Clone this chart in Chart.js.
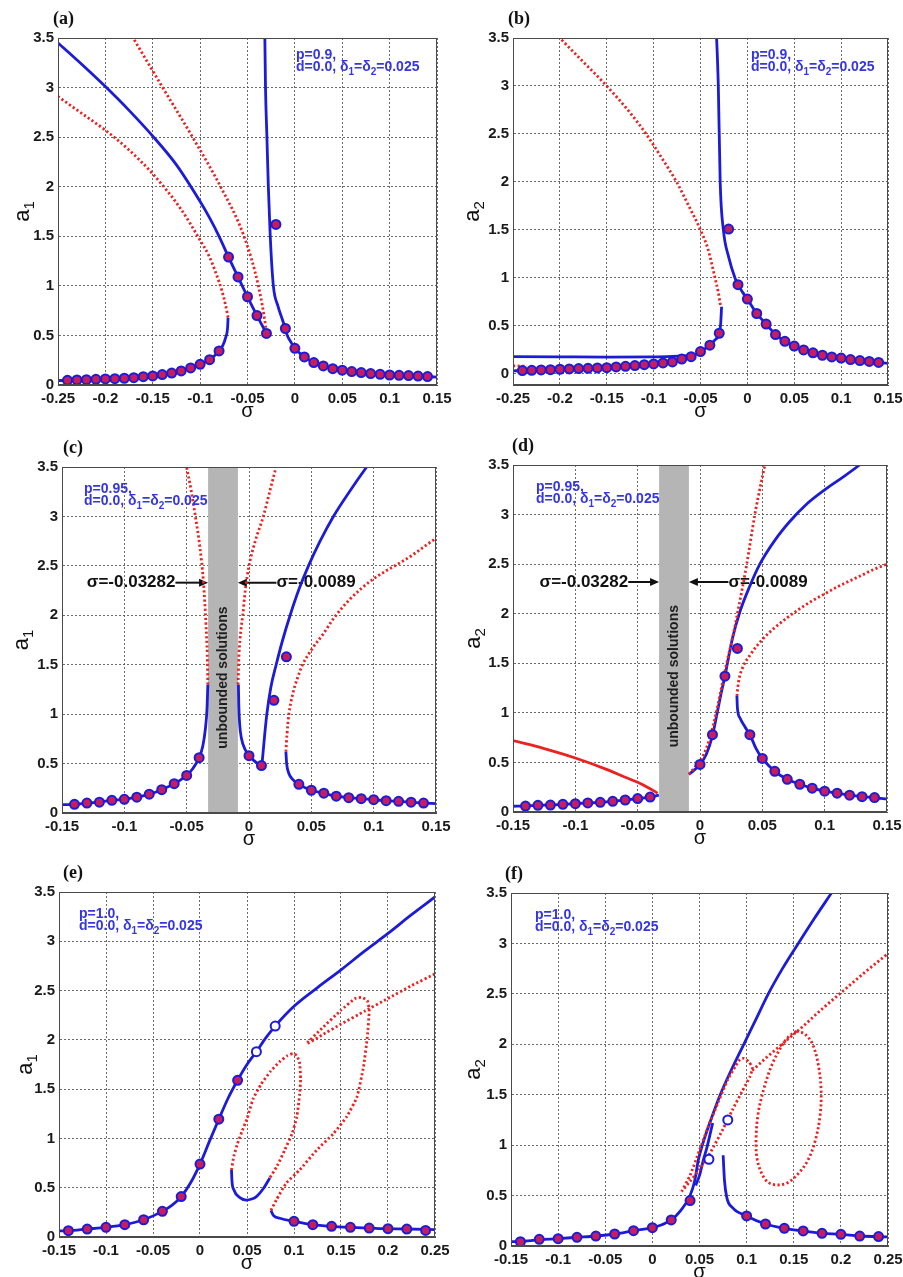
<!DOCTYPE html>
<html>
<head>
<meta charset="utf-8">
<script src="https://cdn.jsdelivr.net/npm/chart.js@4.4.1/dist/chart.umd.min.js"></script>
<style>
  body { margin: 0; background: #fff; width: 903px; height: 1277px; position: relative; overflow: hidden; }
  canvas { position: absolute; }
</style>
</head>
<body>
<canvas id="pa"></canvas>
<canvas id="pb"></canvas>
<canvas id="pc"></canvas>
<canvas id="pd"></canvas>
<canvas id="pe"></canvas>
<canvas id="pf"></canvas>
<script>
// ---- axis ticks ----
const sigmaTicksWide = [-0.25, -0.2, -0.15, -0.1, -0.05, 0, 0.05, 0.1, 0.15];
const sigmaTicksMid = [-0.15, -0.1, -0.05, 0, 0.05, 0.1, 0.15];
const sigmaTicksShift = [-0.15, -0.1, -0.05, 0, 0.05, 0.1, 0.15, 0.2, 0.25];
const ampTicks = [0, 0.5, 1, 1.5, 2, 2.5, 3, 3.5];

// ---- (a) p = 0.9, amplitude a1 ----
const aLowStable = [[-0.25,0.045],[-0.24,0.047],[-0.22,0.054],[-0.2,0.061],[-0.18,0.068],[-0.16,0.084],[-0.14,0.105],[-0.12,0.142],[-0.11,0.172],[-0.1,0.209],[-0.09,0.255],[-0.08,0.344],[-0.076,0.4],[-0.073,0.48],[-0.071,0.58],[-0.0705,0.68]];
const aLowUnstable = [[-0.0705,0.68],[-0.073,0.8],[-0.077,0.95],[-0.083,1.12],[-0.09,1.29],[-0.1,1.46],[-0.12,1.77],[-0.15,2.13],[-0.175,2.37],[-0.2,2.57],[-0.225,2.74],[-0.25,2.91]];
const aUpStable = [[-0.25,3.45],[-0.225,3.235],[-0.2,3.01],[-0.175,2.77],[-0.15,2.51],[-0.125,2.22],[-0.1,1.85],[-0.09,1.685],[-0.08,1.5],[-0.07,1.29],[-0.06,1.09],[-0.05,0.89],[-0.04,0.7],[-0.03,0.52]];
const aUpUnstable = [[-0.177,3.6],[-0.1707,3.5],[-0.1395,3.0],[-0.108,2.5],[-0.0784,2.0],[-0.0537,1.5],[-0.0385,1.0],[-0.031,0.6],[-0.03,0.52]];
const aRightStable = [[-0.0318,3.6],[-0.031,3.0],[-0.0295,2.5],[-0.028,2.0],[-0.026,1.5],[-0.0227,1.0],[-0.018,0.8],[-0.0125,0.64],[-0.008,0.5],[-0.004,0.43],[0,0.37],[0.01,0.283],[0.02,0.226],[0.03,0.192],[0.04,0.165],[0.05,0.149],[0.07,0.125],[0.09,0.108],[0.11,0.098],[0.13,0.09],[0.15,0.08]];
const aSim = [[-0.24,0.047],[-0.23,0.051],[-0.22,0.054],[-0.21,0.057],[-0.2,0.061],[-0.19,0.064],[-0.18,0.068],[-0.17,0.074],[-0.16,0.084],[-0.15,0.091],[-0.14,0.105],[-0.13,0.12],[-0.12,0.142],[-0.11,0.172],[-0.1,0.209],[-0.09,0.255],[-0.08,0.344],[-0.07,1.29],[-0.06,1.09],[-0.05,0.89],[-0.04,0.7],[-0.03,0.52],[-0.02,1.62],[-0.01,0.57],[0,0.37],[0.01,0.283],[0.02,0.226],[0.03,0.192],[0.04,0.165],[0.05,0.149],[0.06,0.135],[0.07,0.125],[0.08,0.115],[0.09,0.108],[0.1,0.101],[0.11,0.098],[0.12,0.095],[0.13,0.09],[0.14,0.085]];

// ---- (b) p = 0.9, amplitude a2 ----
const bFlatStable = [[-0.25,0.18],[-0.2,0.178],[-0.15,0.176],[-0.1,0.178],[-0.08,0.183],[-0.062,0.19]];
const bLowStable = [[-0.25,0.033],[-0.24,0.035],[-0.2,0.049],[-0.15,0.066],[-0.12,0.087],[-0.1,0.104],[-0.08,0.125],[-0.07,0.156],[-0.06,0.18],[-0.05,0.233],[-0.04,0.3],[-0.035,0.35],[-0.03,0.424],[-0.0285,0.52],[-0.0275,0.7]];
const bLowUnstable = [[-0.25,0.085],[-0.235,0.08]];
const bUpUnstable = [[-0.205,3.55],[-0.2,3.5],[-0.175,3.25],[-0.15,3.0],[-0.125,2.72],[-0.108,2.5],[-0.092,2.26],[-0.0755,2.0],[-0.0625,1.75],[-0.05,1.5],[-0.042,1.3],[-0.0345,1.0],[-0.031,0.85],[-0.0285,0.7]];
const bRightStable = [[-0.0332,3.6],[-0.031,3.0],[-0.029,2.0],[-0.0256,1.5],[-0.02,1.22],[-0.0132,1.0],[-0.01,0.93],[-0.005,0.85],[0,0.78],[0.01,0.63],[0.02,0.52],[0.03,0.41],[0.04,0.34],[0.05,0.29],[0.06,0.25],[0.07,0.22],[0.08,0.195],[0.1,0.165],[0.12,0.14],[0.14,0.12],[0.15,0.11]];
const bSim = [[-0.24,0.035],[-0.23,0.038],[-0.22,0.042],[-0.21,0.045],[-0.2,0.049],[-0.19,0.052],[-0.18,0.056],[-0.17,0.059],[-0.16,0.063],[-0.15,0.066],[-0.14,0.073],[-0.13,0.08],[-0.12,0.087],[-0.11,0.097],[-0.1,0.104],[-0.09,0.115],[-0.08,0.125],[-0.07,0.156],[-0.06,0.18],[-0.05,0.233],[-0.04,0.3],[-0.03,0.424],[-0.02,1.51],[-0.01,0.93],[0,0.78],[0.01,0.63],[0.02,0.52],[0.03,0.41],[0.04,0.34],[0.05,0.29],[0.06,0.25],[0.07,0.22],[0.08,0.195],[0.09,0.178],[0.1,0.165],[0.11,0.15],[0.12,0.14],[0.13,0.13],[0.14,0.12]];

// ---- (c) p = 0.95, amplitude a1 ----
const unboundedBand = [-0.03282, -0.0089];
const cLeftStable = [[-0.15,0.085],[-0.14,0.088],[-0.13,0.1],[-0.12,0.11],[-0.11,0.128],[-0.1,0.138],[-0.09,0.16],[-0.08,0.19],[-0.07,0.236],[-0.06,0.297],[-0.05,0.38],[-0.045,0.45],[-0.04,0.56],[-0.037,0.68],[-0.035,0.85],[-0.0337,1.05],[-0.033,1.3]];
const cLeftUnstable = [[-0.033,1.3],[-0.0335,1.6],[-0.0345,1.9],[-0.0365,2.33],[-0.0395,2.7],[-0.043,3.0],[-0.0465,3.27],[-0.051,3.56]];
const cMidStable = [[-0.0085,1.3],[-0.0082,1.1],[-0.0075,0.9],[-0.006,0.75],[-0.003,0.64],[0,0.58],[0.004,0.53],[0.008,0.49],[0.0103,0.48]];
const cRiseStable = [[0.0103,0.48],[0.0112,0.6],[0.0125,0.78],[0.0143,1.0],[0.0175,1.27],[0.0218,1.5],[0.027,1.75],[0.033,2.0],[0.04,2.26],[0.0477,2.5],[0.057,2.75],[0.0677,3.0],[0.08,3.24],[0.0944,3.5],[0.098,3.56]];
const cMidUnstable = [[-0.0088,1.3],[-0.008,1.6],[-0.0065,1.85],[-0.005,2.0],[-0.003,2.25],[0,2.5],[0.005,2.75],[0.0115,3.0],[0.017,3.27],[0.023,3.56]];
const cRightStable = [[0.0296,0.62],[0.0302,0.5],[0.032,0.4],[0.035,0.34],[0.04,0.29],[0.05,0.23],[0.06,0.2],[0.07,0.17],[0.08,0.155],[0.09,0.145],[0.1,0.135],[0.11,0.125],[0.12,0.118],[0.13,0.11],[0.14,0.1],[0.15,0.095]];
const cRightUnstable = [[0.0296,0.62],[0.0305,0.8],[0.032,1.0],[0.035,1.2],[0.039,1.37],[0.043,1.5],[0.05,1.65],[0.06,1.82],[0.068,1.97],[0.08,2.15],[0.09,2.27],[0.1,2.37],[0.11,2.45],[0.121,2.53],[0.13,2.6],[0.14,2.69],[0.15,2.78]];
const cSim = [[-0.14,0.088],[-0.13,0.1],[-0.12,0.11],[-0.11,0.128],[-0.1,0.138],[-0.09,0.16],[-0.08,0.19],[-0.07,0.236],[-0.06,0.297],[-0.05,0.38],[-0.04,0.56],[0,0.58],[0.01,0.48],[0.02,1.14],[0.03,1.58],[0.04,0.29],[0.05,0.23],[0.06,0.2],[0.07,0.17],[0.08,0.155],[0.09,0.145],[0.1,0.135],[0.11,0.125],[0.12,0.118],[0.13,0.11],[0.14,0.1]];

// ---- (d) p = 0.95, amplitude a2 ----
const dLeftStable = [[-0.15,0.058],[-0.14,0.06],[-0.13,0.067],[-0.12,0.07],[-0.11,0.077],[-0.1,0.084],[-0.09,0.091],[-0.08,0.098],[-0.07,0.108],[-0.06,0.121],[-0.05,0.135],[-0.04,0.151],[-0.033,0.17]];
const dLeftUnstable = [[-0.15,0.72],[-0.125,0.64],[-0.1,0.545],[-0.075,0.43],[-0.06,0.35],[-0.05,0.3],[-0.04,0.235],[-0.034,0.19]];
const dRiseStable = [[-0.0089,0.38],[-0.005,0.42],[0,0.48],[0.005,0.58],[0.01,0.77],[0.013,0.95],[0.017,1.2],[0.02,1.37],[0.022,1.5],[0.026,1.75],[0.032,2.02],[0.04,2.28],[0.048,2.5],[0.06,2.74],[0.072,2.93],[0.085,3.1],[0.1,3.25],[0.115,3.38],[0.128,3.5],[0.134,3.56]];
const dMidUnstable = [[-0.0089,0.38],[-0.003,0.47],[0.003,0.58],[0.008,0.75],[0.013,1.0],[0.018,1.3],[0.0214,1.5],[0.026,1.75],[0.03,2.0],[0.0375,2.5],[0.044,3.0],[0.053,3.56]];
const dRightStable = [[0.0296,1.17],[0.03,1.05],[0.032,0.95],[0.036,0.86],[0.04,0.78],[0.045,0.64],[0.05,0.54],[0.06,0.41],[0.07,0.33],[0.08,0.28],[0.09,0.24],[0.1,0.21],[0.11,0.19],[0.12,0.17],[0.13,0.155],[0.14,0.145],[0.15,0.13]];
const dRightUnstable = [[0.0296,1.17],[0.031,1.32],[0.034,1.45],[0.04,1.58],[0.05,1.74],[0.06,1.86],[0.07,1.96],[0.08,2.05],[0.09,2.13],[0.1,2.2],[0.11,2.27],[0.12,2.33],[0.13,2.39],[0.14,2.45],[0.15,2.5]];
const dSim = [[-0.14,0.06],[-0.13,0.067],[-0.12,0.07],[-0.11,0.077],[-0.1,0.084],[-0.09,0.091],[-0.08,0.098],[-0.07,0.108],[-0.06,0.121],[-0.05,0.135],[-0.04,0.151],[0,0.48],[0.01,0.78],[0.02,1.37],[0.03,1.65],[0.04,0.78],[0.05,0.54],[0.06,0.41],[0.07,0.33],[0.08,0.28],[0.09,0.24],[0.1,0.21],[0.11,0.19],[0.12,0.17],[0.13,0.155],[0.14,0.145]];

// ---- (e) p = 1.0, amplitude a1 ----
const eMainStable = [[-0.15,0.062],[-0.14,0.064],[-0.12,0.081],[-0.1,0.098],[-0.08,0.125],[-0.06,0.175],[-0.04,0.26],[-0.03,0.32],[-0.02,0.41],[-0.01,0.55],[0,0.74],[0.01,0.97],[0.02,1.195],[0.03,1.41],[0.04,1.59],[0.05,1.75],[0.06,1.88],[0.07,2.02],[0.08,2.14],[0.1,2.34],[0.125,2.53],[0.15,2.71],[0.175,2.9],[0.2,3.08],[0.225,3.27],[0.25,3.45]];
const eArcStable = [[0.0335,0.68],[0.034,0.57],[0.036,0.48],[0.0424,0.4],[0.0495,0.375],[0.055,0.385],[0.06,0.41],[0.068,0.5],[0.0743,0.6]];
const eInnerLoop = [[0.0335,0.68],[0.036,0.82],[0.04,0.95],[0.045,1.08],[0.05,1.2],[0.0565,1.4],[0.065,1.55],[0.075,1.68],[0.085,1.78],[0.093,1.84],[0.099,1.86],[0.103,1.84],[0.106,1.76],[0.107,1.6],[0.106,1.45],[0.103,1.22],[0.098,1.05],[0.09,0.88],[0.082,0.72],[0.0743,0.6]];
const eOuterUnstable = [[0.0755,0.27],[0.0814,0.38],[0.092,0.55],[0.106,0.68],[0.124,0.88],[0.142,1.05],[0.156,1.22],[0.167,1.42],[0.174,1.73],[0.178,2.03],[0.18,2.3],[0.178,2.4],[0.172,2.43],[0.165,2.42],[0.15,2.3],[0.13,2.12],[0.1134,1.96],[0.13,2.05],[0.15,2.16],[0.175,2.29],[0.2,2.42],[0.225,2.55],[0.25,2.67]];
const eRightStable = [[0.0755,0.27],[0.078,0.22],[0.085,0.19],[0.1,0.159],[0.12,0.125],[0.14,0.108],[0.16,0.098],[0.18,0.091],[0.2,0.084],[0.22,0.081],[0.25,0.075]];
const eSim = [[-0.14,0.064],[-0.12,0.081],[-0.1,0.098],[-0.08,0.125],[-0.06,0.175],[-0.04,0.26],[-0.02,0.41],[0,0.74],[0.02,1.195],[0.04,1.59],[0.1,0.159],[0.12,0.125],[0.14,0.108],[0.16,0.098],[0.18,0.091],[0.2,0.084],[0.22,0.081],[0.24,0.067]];
const eSimOpen = [[0.06,1.88],[0.08,2.14]];

// ---- (f) p = 1.0, amplitude a2 ----
const fMainStable = [[-0.15,0.043],[-0.14,0.045],[-0.12,0.062],[-0.1,0.073],[-0.08,0.086],[-0.06,0.099],[-0.04,0.119],[-0.02,0.152],[0,0.182],[0.01,0.21],[0.02,0.258],[0.03,0.35],[0.04,0.5],[0.045,0.65],[0.0487,0.85],[0.053,1.0],[0.062,1.25],[0.072,1.5],[0.084,1.75],[0.097,2.0],[0.11,2.25],[0.123,2.5],[0.138,2.75],[0.1548,3.0],[0.172,3.25],[0.19,3.5],[0.195,3.57]];
const fSideStable = [[0.046,0.6],[0.05,0.7],[0.054,0.85],[0.058,0.98],[0.061,1.1],[0.064,1.22]];
const fThinLoop = [[0.031,0.54],[0.04,0.7],[0.05,0.95],[0.06,1.2],[0.07,1.43],[0.08,1.65],[0.088,1.78],[0.093,1.85],[0.097,1.86],[0.102,1.83],[0.106,1.77],[0.1036,1.68],[0.095,1.53],[0.085,1.35],[0.075,1.16],[0.0611,0.92],[0.05,0.76],[0.04,0.64],[0.031,0.54]];
const fLongUnstable = [[0.106,1.74],[0.12,1.86],[0.14,2.02],[0.16,2.18],[0.18,2.35],[0.2,2.51],[0.225,2.71],[0.25,2.9]];
const fEllipse = [[0.153,2.13],[0.162,2.1],[0.17,2.0],[0.176,1.8],[0.179,1.55],[0.178,1.3],[0.173,1.05],[0.165,0.85],[0.155,0.72],[0.144,0.63],[0.133,0.605],[0.123,0.63],[0.116,0.72],[0.111,0.87],[0.11,1.05],[0.112,1.3],[0.118,1.55],[0.127,1.8],[0.137,1.98],[0.145,2.08],[0.153,2.13]];
const fRightStable = [[0.0751,0.9],[0.0765,0.65],[0.079,0.48],[0.085,0.38],[0.0998,0.298],[0.12,0.218],[0.14,0.175],[0.16,0.149],[0.18,0.126],[0.2,0.116],[0.22,0.099],[0.25,0.09]];
const fSim = [[-0.14,0.043],[-0.12,0.066],[-0.1,0.073],[-0.08,0.086],[-0.06,0.099],[-0.04,0.119],[-0.02,0.152],[0,0.182],[0.02,0.258],[0.04,0.45],[0.1,0.298],[0.12,0.218],[0.14,0.175],[0.16,0.149],[0.18,0.126],[0.2,0.116],[0.22,0.099],[0.24,0.093]];
const fSimOpen = [[0.06,0.86],[0.08,1.25]];

// ---- styling ----
const SANS = "'Liberation Sans', Arial, sans-serif";
const SERIF = "'Liberation Serif', 'Times New Roman', serif";
const BLUE = '#1c1cd8';
const RED = '#ea2222';
const SIM_FILL = '#c81d5c';
const NOTE_BLUE = '#3535e4';
const GRID = 'rgba(80,80,80,0.85)';
const BAND = '#b5b5b5';
const PAD = {left: 58, top: 38, right: 22, bottom: 40};

const xy = pts => pts.map(([x, y]) => ({x, y}));
// branches that are single-valued in sigma use monotone splines; closed loops fall back to tension
const curve = loop => loop ? {tension: loop} : {cubicInterpolationMode: 'monotone'};
const stable = (pts, color = BLUE, loop) => ({data: xy(pts), showLine: true, borderColor: color, borderWidth: 2.8, pointRadius: 0, order: 3, clip: 0, ...curve(loop)});
const unstable = (pts, loop) => ({data: xy(pts), showLine: true, borderColor: RED, borderWidth: 2.8, borderDash: [2.2, 2.4], pointRadius: 0, order: 2, clip: 0, ...curve(loop)});
const sims = (pts, open) => ({data: xy(pts), showLine: false, pointRadius: 4.5, pointBackgroundColor: open ? '#fff' : SIM_FILL, pointBorderColor: BLUE, pointBorderWidth: 2, order: 1});

const note = p => [['p=' + p + ','], ['d=0.0, δ', ['1'], '=δ', ['2'], '=0.025']];

// draws a line of text where nested arrays are subscripts
function richText(ctx, x, y, parts, size) {
  let cx = x;
  for (const part of parts) {
    const sub = Array.isArray(part);
    const t = sub ? part[0] : part;
    ctx.font = `bold ${sub ? Math.round(size * 0.72) : size}px ${SANS}`;
    ctx.fillText(t, cx, sub ? y + size * 0.3 : y);
    cx += ctx.measureText(t).width;
  }
}

function arrow(ctx, tail, head, y) {
  const dir = Math.sign(head - tail);
  ctx.beginPath();
  ctx.moveTo(tail, y);
  ctx.lineTo(head - dir * 6, y);
  ctx.lineWidth = 2;
  ctx.stroke();
  ctx.beginPath();
  ctx.moveTo(head, y);
  ctx.lineTo(head - dir * 9, y - 4);
  ctx.lineTo(head - dir * 9, y + 4);
  ctx.closePath();
  ctx.fill();
}

function decor(p) {
  return {
    id: 'decor',
    beforeDatasetsDraw(chart) {
      if (!p.band) return;
      const {ctx, chartArea: a, scales: {x, y}} = chart;
      const x0 = x.getPixelForValue(p.band[0]), x1 = x.getPixelForValue(p.band[1]);
      ctx.save();
      ctx.fillStyle = BAND;
      ctx.fillRect(x0, a.top, x1 - x0, a.bottom - a.top);
      ctx.translate((x0 + x1) / 2, y.getPixelForValue(1.37));
      ctx.rotate(-Math.PI / 2);
      ctx.font = `bold 14px ${SANS}`;
      ctx.fillStyle = '#1e1e1e';
      ctx.textAlign = 'center';
      ctx.textBaseline = 'middle';
      ctx.fillText('unbounded solutions', 0, 0);
      ctx.restore();

      const yl = y.getPixelForValue(p.arrowLevel);
      const tl = x.getPixelForValue(p.arrowTails[0]);
      const tr = x.getPixelForValue(p.arrowTails[1]);
      ctx.save();
      ctx.fillStyle = ctx.strokeStyle = '#111';
      arrow(ctx, tl, x0, yl);
      arrow(ctx, tr, x1, yl);
      ctx.font = `bold 17px ${SANS}`;
      ctx.textBaseline = 'middle';
      ctx.textAlign = 'right';
      ctx.fillText('σ=' + p.band[0], tl, yl);
      ctx.textAlign = 'left';
      ctx.fillText('σ=' + p.band[1], tr, yl);
      ctx.restore();
    },
    afterDraw(chart) {
      const {ctx, chartArea: a} = chart;
      ctx.save();
      ctx.strokeStyle = '#4a4a4a';
      ctx.lineWidth = 1;
      ctx.strokeRect(a.left + 0.5, a.top + 0.5, a.right - a.left - 1, a.bottom - a.top - 1);

      // panel letter
      ctx.fillStyle = '#111';
      ctx.font = `bold 18px ${SERIF}`;
      ctx.textBaseline = 'alphabetic';
      ctx.fillText(p.label, a.left + p.labelDx, a.top - 14);

      // parameter note
      ctx.fillStyle = NOTE_BLUE;
      const lines = note(p.p);
      richText(ctx, a.left + p.note[0], a.top + p.note[1], lines[0], 14);
      richText(ctx, a.left + p.note[0], a.top + p.note[1] + 12, lines[1], 14);

      // y-axis title with subscript, rotated
      ctx.translate(a.left - p.yTitleDx, (a.top + a.bottom) / 2);
      ctx.rotate(-Math.PI / 2);
      ctx.fillStyle = '#111';
      ctx.font = `22px ${SANS}`;
      const wa = ctx.measureText('a').width;
      ctx.font = `15px ${SANS}`;
      const ws = ctx.measureText(p.yIndex).width;
      const x0 = -(wa + ws) / 2;
      ctx.font = `22px ${SANS}`;
      ctx.fillText('a', x0, 5);
      ctx.font = `15px ${SANS}`;
      ctx.fillText(p.yIndex, x0 + wa, 10);
      ctx.restore();
    }
  };
}

function drawPanel(id, p) {
  const [L, T, R, B] = p.box;
  const cv = document.getElementById(id);
  cv.width = (R - L) + PAD.left + PAD.right;
  cv.height = (B - T) + PAD.top + PAD.bottom;
  cv.style.left = (L - PAD.left) + 'px';
  cv.style.top = (T - PAD.top) + 'px';
  const tickFont = {family: SANS, size: 15, weight: 'bold'};
  return new Chart(cv, {
    type: 'scatter',
    data: {datasets: p.datasets},
    options: {
      responsive: false,
      animation: false,
      events: [],
      layout: {padding: {left: 0, top: PAD.top, right: PAD.right, bottom: 0}},
      plugins: {legend: {display: false}, tooltip: {enabled: false}},
      scales: {
        x: {
          type: 'linear',
          min: p.xTicks[0],
          max: p.xTicks[p.xTicks.length - 1],
          afterBuildTicks: s => { s.ticks = p.xTicks.map(v => ({value: v})); },
          afterFit: s => { s.height = PAD.bottom; },
          ticks: {font: tickFont, color: '#1a1a1a', padding: 5, maxRotation: 0, autoSkip: false, callback: v => String(v)},
          grid: {color: GRID, lineWidth: 1, drawTicks: false},
          border: {color: '#4a4a4a', width: 1, dash: [2, 2]},
          title: {display: true, text: 'σ', color: '#111', font: {family: SANS, size: 20}, padding: {top: 0, bottom: 2}}
        },
        y: {
          type: 'linear',
          min: p.yMin || 0,
          max: 3.5,
          afterBuildTicks: s => { s.ticks = ampTicks.map(v => ({value: v})); },
          afterFit: s => { s.width = PAD.left; },
          ticks: {font: tickFont, color: '#1a1a1a', padding: 4, autoSkip: false, callback: v => String(v)},
          grid: {color: GRID, lineWidth: 1, drawTicks: false},
          border: {color: '#4a4a4a', width: 1, dash: [2, 2]}
        }
      }
    },
    plugins: [decor(p)]
  });
}

drawPanel('pa', {
  box: [58, 38, 437, 385], xTicks: sigmaTicksWide, label: '(a)', labelDx: -5, p: '0.9',
  note: [238, 21], yIndex: '1', yTitleDx: 34,
  datasets: [sims(aSim), unstable(aLowUnstable), unstable(aUpUnstable),
    stable(aLowStable), stable(aUpStable), stable(aRightStable)]
});

drawPanel('pb', {
  box: [513, 38, 888, 385], xTicks: sigmaTicksWide, yMin: -0.115, label: '(b)', labelDx: -5, p: '0.9',
  note: [238, 21], yIndex: '2', yTitleDx: 39,
  datasets: [sims(bSim), unstable(bUpUnstable), unstable(bLowUnstable),
    stable(bFlatStable), stable(bLowStable), stable(bRightStable)]
});

drawPanel('pc', {
  box: [62, 467, 436, 813], xTicks: sigmaTicksMid, label: '(c)', labelDx: 1, p: '0.95',
  note: [22, 26], yIndex: '1', yTitleDx: 39,
  band: unboundedBand, arrowLevel: 2.33, arrowTails: [-0.059, 0.022],
  datasets: [sims(cSim), unstable(cLeftUnstable), unstable(cMidUnstable), unstable(cRightUnstable),
    stable(cLeftStable), stable(cMidStable), stable(cRiseStable), stable(cRightStable)]
});

drawPanel('pd', {
  box: [513, 465, 887, 812], xTicks: sigmaTicksMid, label: '(d)', labelDx: -1, p: '0.95',
  note: [23, 26], yIndex: '2', yTitleDx: 38,
  band: unboundedBand, arrowLevel: 2.32, arrowTails: [-0.0576, 0.0228],
  datasets: [sims(dSim), stable(dLeftUnstable, RED), unstable(dMidUnstable), unstable(dRightUnstable),
    stable(dLeftStable), stable(dRiseStable), stable(dRightStable)]
});

drawPanel('pe', {
  box: [59, 892, 435, 1237], xTicks: sigmaTicksShift, label: '(e)', labelDx: 4, p: '1.0',
  note: [20, 26], yIndex: '1', yTitleDx: 32,
  datasets: [sims(eSim), sims(eSimOpen, true), unstable(eInnerLoop, 0.2), unstable(eOuterUnstable, 0.15),
    stable(eMainStable), stable(eArcStable), stable(eRightStable)]
});

drawPanel('pf', {
  box: [511, 893, 888, 1246], xTicks: sigmaTicksShift, label: '(f)', labelDx: -6, p: '1.0',
  note: [24, 26], yIndex: '2', yTitleDx: 36,
  datasets: [sims(fSim), sims(fSimOpen, true), unstable(fThinLoop, 0.2), unstable(fLongUnstable), unstable(fEllipse, 0.35),
    stable(fMainStable), stable(fSideStable), stable(fRightStable)]
});
</script>
</body>
</html>
